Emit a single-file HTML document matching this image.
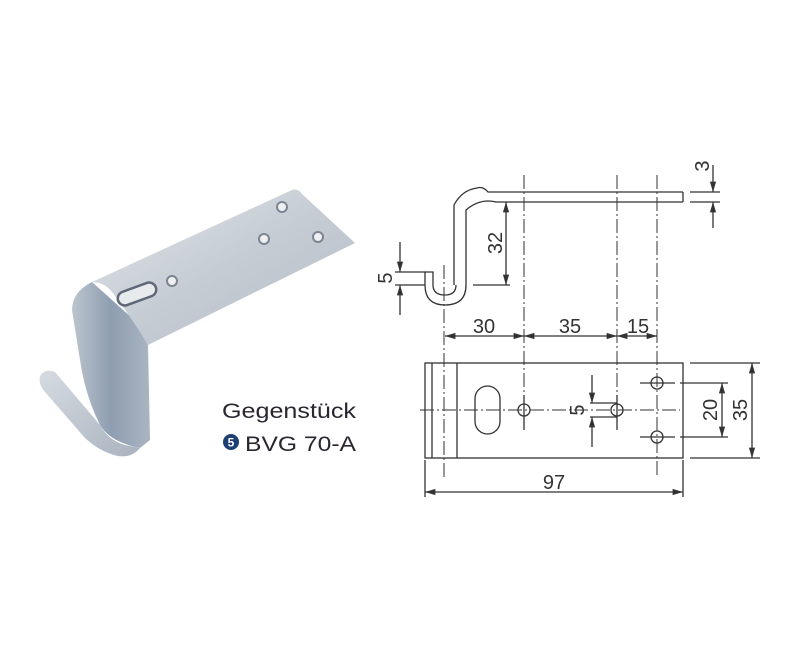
<!DOCTYPE html>
<html><head><meta charset="utf-8"><style>
html,body{margin:0;padding:0;background:#fff;}
svg{display:block}
</style></head><body>
<svg width="800" height="657" viewBox="0 0 800 657" xmlns="http://www.w3.org/2000/svg">
<defs>
<linearGradient id="g1" x1="0" y1="0" x2="1" y2="1">
<stop offset="0" stop-color="#e2e6ea"/><stop offset="0.5" stop-color="#c6ccd4"/><stop offset="1" stop-color="#b3bcc6"/>
</linearGradient>
<linearGradient id="g2" x1="0" y1="0" x2="1" y2="0">
<stop offset="0" stop-color="#bcc5ce"/><stop offset="0.5" stop-color="#8e9db1"/><stop offset="1" stop-color="#aab5c1"/>
</linearGradient>
<linearGradient id="g3" x1="0" y1="0" x2="1" y2="1">
<stop offset="0" stop-color="#d6dbe1"/><stop offset="1" stop-color="#a9b3bf"/>
</linearGradient>
<marker id="a" viewBox="0 0 10 6" refX="10" refY="3" markerWidth="8" markerHeight="5" orient="auto-start-reverse"><path d="M0,0L10,3L0,6z" fill="#333"/></marker>
</defs>
<!-- photo -->
<path d="M40,376 Q45,368 55,372 L100,425 Q108,440 125,445 L140,448 Q132,458 118,456 Q100,452 85,438 L45,392 Q38,384 40,376Z" fill="url(#g3)"/>
<path d="M92,282 Q72,292 72,310 L80,360 Q85,395 100,425 Q110,442 140,448 L150,440 L148,345 Q140,330 132,318 Z" fill="url(#g2)"/>
<path d="M92,282 L292,190 Q298,188 302,194 L355,243 L148,345 Q132,318 112,292 Q104,282 92,282Z" fill="url(#g1)"/>
<rect x="117" y="287" width="40" height="14" rx="7" fill="#e8ebee" stroke="#5e6876" stroke-width="2.5" transform="rotate(-20 137 294)"/>
<circle cx="172" cy="281" r="5" fill="#eef0f2" stroke="#7c8590" stroke-width="2"/>
<circle cx="264" cy="239" r="5" fill="#eef0f2" stroke="#7c8590" stroke-width="2"/>
<circle cx="318" cy="237" r="5" fill="#eef0f2" stroke="#7c8590" stroke-width="2"/>
<circle cx="282" cy="207" r="5" fill="#eef0f2" stroke="#7c8590" stroke-width="2"/>
<text x="222" y="418" font-family="Liberation Sans Narrow, Liberation Sans, sans-serif" font-size="21" fill="#2a2630" textLength="134" lengthAdjust="spacingAndGlyphs">Gegenstück</text>
<circle cx="231" cy="442" r="8" fill="#1d3f73"/>
<text x="231" y="446.5" font-family="Liberation Sans, sans-serif" font-size="12" fill="#fff" text-anchor="middle" font-weight="bold">5</text>
<text x="245" y="451" font-family="Liberation Sans Narrow, Liberation Sans, sans-serif" font-size="21" fill="#2a2630" textLength="111" lengthAdjust="spacingAndGlyphs">BVG 70-A</text>
<!-- drawing -->
<g stroke="#333" stroke-width="1.3" fill="none" font-family="Liberation Sans, sans-serif">
<path d="M683,192 L488,192 Q483,186 477,188 Q462,190 454,205 L454,285 M683,202 L496,202 Q480,198 466,210 L466,285 Q466,305 445,305 Q425,305 425,285 L425,272 L433,272 L433,285 Q433,295 445,295 Q456,295 456,285"/>
<line x1="683" y1="192" x2="683" y2="202"/>
<g stroke-dasharray="14,3,2,3" stroke-width="1">
<line x1="524" y1="175" x2="524" y2="400"/>
<line x1="617" y1="175" x2="617" y2="420"/>
<line x1="657" y1="175" x2="657" y2="478"/>
<line x1="444" y1="265" x2="444" y2="478"/>
<line x1="420" y1="410" x2="680" y2="410"/>
</g>
<line x1="690" y1="192" x2="720" y2="192"/><line x1="690" y1="202" x2="720" y2="202"/>
<line x1="713" y1="165" x2="713" y2="192" marker-end="url(#a)"/>
<line x1="713" y1="228" x2="713" y2="202" marker-end="url(#a)"/>
<line x1="473" y1="285" x2="510" y2="285"/>
<line x1="506" y1="202" x2="506" y2="285" marker-start="url(#a)" marker-end="url(#a)"/>
<line x1="395" y1="272" x2="425" y2="272"/><line x1="395" y1="285" x2="425" y2="285"/>
<line x1="400" y1="242" x2="400" y2="272" marker-end="url(#a)"/>
<line x1="400" y1="315" x2="400" y2="285" marker-end="url(#a)"/>
<line x1="445" y1="336" x2="524" y2="336" marker-start="url(#a)" marker-end="url(#a)"/>
<line x1="524" y1="336" x2="617" y2="336" marker-start="url(#a)" marker-end="url(#a)"/>
<line x1="617" y1="336" x2="657" y2="336" marker-start="url(#a)" marker-end="url(#a)"/>
<rect x="425" y="363" width="258" height="95"/>
<line x1="432" y1="363" x2="432" y2="458"/><line x1="457" y1="363" x2="457" y2="458"/>
<rect x="475" y="386" width="25" height="48" rx="12.5"/>
<circle cx="524" cy="410" r="6"/><circle cx="617" cy="410" r="6"/>
<circle cx="657" cy="383" r="6"/><circle cx="657" cy="437" r="6"/>
<line x1="640" y1="383" x2="675" y2="383"/><line x1="640" y1="437" x2="675" y2="437"/>
<line x1="524" y1="395" x2="524" y2="430"/><line x1="617" y1="395" x2="617" y2="430"/>
<line x1="590" y1="403" x2="617" y2="403"/><line x1="590" y1="417" x2="617" y2="417"/>
<line x1="592" y1="375" x2="592" y2="403" marker-end="url(#a)"/>
<line x1="592" y1="447" x2="592" y2="417" marker-end="url(#a)"/>
<line x1="680" y1="383" x2="728" y2="383"/><line x1="680" y1="437" x2="728" y2="437"/>
<line x1="690" y1="363" x2="760" y2="363"/><line x1="690" y1="458" x2="760" y2="458"/>
<line x1="722" y1="383" x2="722" y2="437" marker-start="url(#a)" marker-end="url(#a)"/>
<line x1="752" y1="363" x2="752" y2="458" marker-start="url(#a)" marker-end="url(#a)"/>
<line x1="425" y1="460" x2="425" y2="497"/><line x1="683" y1="460" x2="683" y2="497"/>
<line x1="425" y1="492" x2="683" y2="492" marker-start="url(#a)" marker-end="url(#a)"/>
</g>
<g font-family="Liberation Sans, sans-serif" font-size="20" fill="#333">
<text x="484" y="333" text-anchor="middle">30</text>
<text x="570" y="333" text-anchor="middle">35</text>
<text x="638" y="333" text-anchor="middle">15</text>
<text x="554" y="489" text-anchor="middle">97</text>
<text transform="translate(502,243) rotate(-90)" text-anchor="middle">32</text>
<text transform="translate(392,278) rotate(-90)" text-anchor="middle">5</text>
<text transform="translate(709,166) rotate(-90)" text-anchor="middle">3</text>
<text transform="translate(584,410) rotate(-90)" text-anchor="middle">5</text>
<text transform="translate(717,410) rotate(-90)" text-anchor="middle">20</text>
<text transform="translate(747,410) rotate(-90)" text-anchor="middle">35</text>
</g>
</svg>
</body></html>
